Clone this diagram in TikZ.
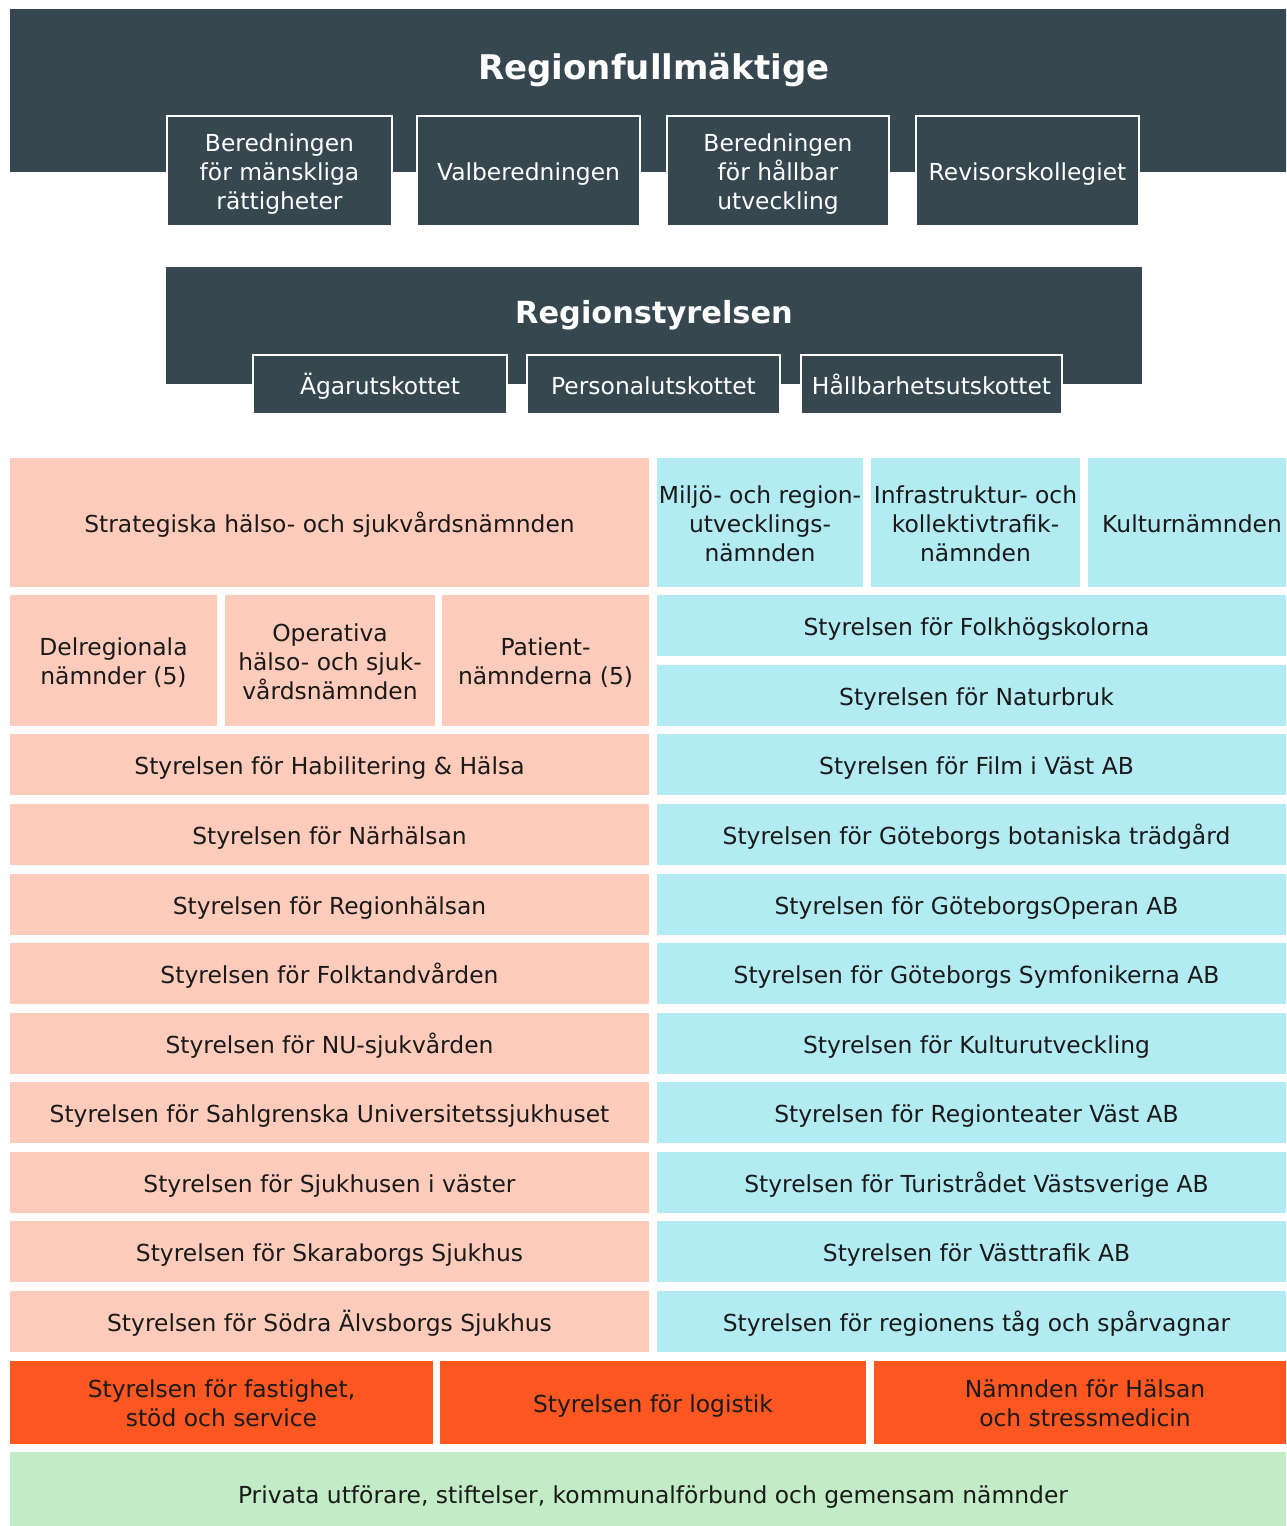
\documentclass[tikz,border=0pt]{standalone}
\usepackage{fontspec}
\setmainfont{DejaVu Sans}
\definecolor{darkbg}{HTML}{37474F}
\definecolor{pinkbg}{HTML}{FFCCBC}
\definecolor{cyanbg}{HTML}{B2EBF2}
\definecolor{orangebg}{HTML}{FF5722}
\definecolor{greenbg}{HTML}{C2ECC5}
\definecolor{txt}{HTML}{1A1A1A}
\newcommand\mystrut{\vrule height 12pt depth 2.5pt width 0pt}
\newcommand\bx[7]{%
  \pgfmathsetmacro\bxcx{(#2+#4)/2}\pgfmathsetmacro\bxcy{(#3+#5)/2}%
  \pgfmathsetmacro\bxw{(#4-#2)*0.5}\pgfmathsetmacro\bxh{(#5-#3)*0.5}%
  \node[#6, minimum width=\bxw pt, minimum height=\bxh pt] (#1) at (\bxcx,\bxcy) {\mystrut#7\mystrut};}
\tikzset{
  base/.style={rectangle, inner sep=0pt, outer sep=0pt, align=center,
    font=\fontsize{11.7}{14.5}\selectfont},
  darkbox/.style={base, fill=darkbg, text=white},
  subbox/.style={base, fill=darkbg, draw=white, line width=1pt, text=white},
  pinkbox/.style={base, fill=pinkbg, text=txt},
  cyanbox/.style={base, fill=cyanbg, text=txt},
  orangebox/.style={base, fill=orangebg, text=txt},
  greenbox/.style={base, fill=greenbg, text=txt},
  titletext/.style={inner sep=0pt, anchor=base, text=white, font=\bfseries},
}
\begin{document}
\begin{tikzpicture}[x=0.5pt, y=-0.5pt]
\useasboundingbox (0,0) rectangle (1286,1526);
\clip (0,0) rectangle (1286,1526);
% Regionfullmaktige
\bx{rf}{10}{9}{1298}{172}{darkbox}{}
\node[titletext, font=\fontsize{17}{20}\selectfont\bfseries] (rft) at (654,79) {Regionfullmäktige};
\bx{rf1}{167}{116}{392}{226}{subbox}{Beredningen\\för mänskliga\\rättigheter}
\bx{rf2}{417}{116}{640}{226}{subbox}{Valberedningen}
\bx{rf3}{667}{116}{889}{226}{subbox}{Beredningen\\för hållbar\\utveckling}
\bx{rf4}{916}{116}{1139}{226}{subbox}{Revisorskollegiet}
% Regionstyrelsen
\bx{rs}{166}{267}{1142}{384}{darkbox}{}
\node[titletext, font=\fontsize{15.2}{18}\selectfont\bfseries] (rst) at (654,323) {Regionstyrelsen};
\bx{rs1}{253}{355}{507}{414}{subbox}{Ägarutskottet}
\bx{rs2}{527}{355}{780}{414}{subbox}{Personalutskottet}
\bx{rs3}{801}{355}{1062}{414}{subbox}{Hållbarhetsutskottet}
% Row 1
\bx{p1}{10}{458}{649}{587}{pinkbox}{Strategiska hälso- och sjukvårdsnämnden}
\bx{c1a}{657}{458}{863}{587}{cyanbox}{Miljö- och region-\\utvecklings-\\nämnden}
\bx{c1b}{871}{458}{1080}{587}{cyanbox}{Infrastruktur- och\\kollektivtrafik-\\nämnden}
\bx{c1c}{1088}{458}{1296}{587}{cyanbox}{Kulturnämnden}
% Row 2
\bx{p2a}{10}{595}{217}{726}{pinkbox}{Delregionala\\nämnder (5)}
\bx{p2b}{225}{595}{435}{726}{pinkbox}{Operativa\\hälso- och sjuk-\\vårdsnämnden}
\bx{p2c}{442}{595}{649}{726}{pinkbox}{Patient-\\nämnderna (5)}
\bx{c2a}{657}{595}{1296}{656}{cyanbox}{Styrelsen för Folkhögskolorna}
\bx{c2b}{657}{665}{1296}{726}{cyanbox}{Styrelsen för Naturbruk}
% Rows 3-11
\bx{p3}{10}{734}{649}{795}{pinkbox}{Styrelsen för Habilitering \& Hälsa}
\bx{c3}{657}{734}{1296}{795}{cyanbox}{Styrelsen för Film i Väst AB}
\bx{p4}{10}{804}{649}{865}{pinkbox}{Styrelsen för Närhälsan}
\bx{c4}{657}{804}{1296}{865}{cyanbox}{Styrelsen för Göteborgs botaniska trädgård}
\bx{p5}{10}{874}{649}{935}{pinkbox}{Styrelsen för Regionhälsan}
\bx{c5}{657}{874}{1296}{935}{cyanbox}{Styrelsen för GöteborgsOperan AB}
\bx{p6}{10}{943}{649}{1004}{pinkbox}{Styrelsen för Folktandvården}
\bx{c6}{657}{943}{1296}{1004}{cyanbox}{Styrelsen för Göteborgs Symfonikerna AB}
\bx{p7}{10}{1013}{649}{1074}{pinkbox}{Styrelsen för NU-sjukvården}
\bx{c7}{657}{1013}{1296}{1074}{cyanbox}{Styrelsen för Kulturutveckling}
\bx{p8}{10}{1082}{649}{1143}{pinkbox}{Styrelsen för Sahlgrenska Universitetssjukhuset}
\bx{c8}{657}{1082}{1296}{1143}{cyanbox}{Styrelsen för Regionteater Väst AB}
\bx{p9}{10}{1152}{649}{1213}{pinkbox}{Styrelsen för Sjukhusen i väster}
\bx{c9}{657}{1152}{1296}{1213}{cyanbox}{Styrelsen för Turistrådet Västsverige AB}
\bx{p10}{10}{1221}{649}{1282}{pinkbox}{Styrelsen för Skaraborgs Sjukhus}
\bx{c10}{657}{1221}{1296}{1282}{cyanbox}{Styrelsen för Västtrafik AB}
\bx{p11}{10}{1291}{649}{1352}{pinkbox}{Styrelsen för Södra Älvsborgs Sjukhus}
\bx{c11}{657}{1291}{1296}{1352}{cyanbox}{Styrelsen för regionens tåg och spårvagnar}
% Orange row
\bx{o1}{10}{1361}{433}{1444}{orangebox}{Styrelsen för fastighet,\\stöd och service}
\bx{o2}{440}{1361}{866}{1444}{orangebox}{Styrelsen för logistik}
\bx{o3}{874}{1361}{1296}{1444}{orangebox}{Nämnden för Hälsan\\och stressmedicin}
% Green
\bx{g1}{10}{1452}{1296}{1536}{greenbox}{Privata utförare, stiftelser, kommunalförbund och gemensam nämnder}
\end{tikzpicture}
\end{document}
